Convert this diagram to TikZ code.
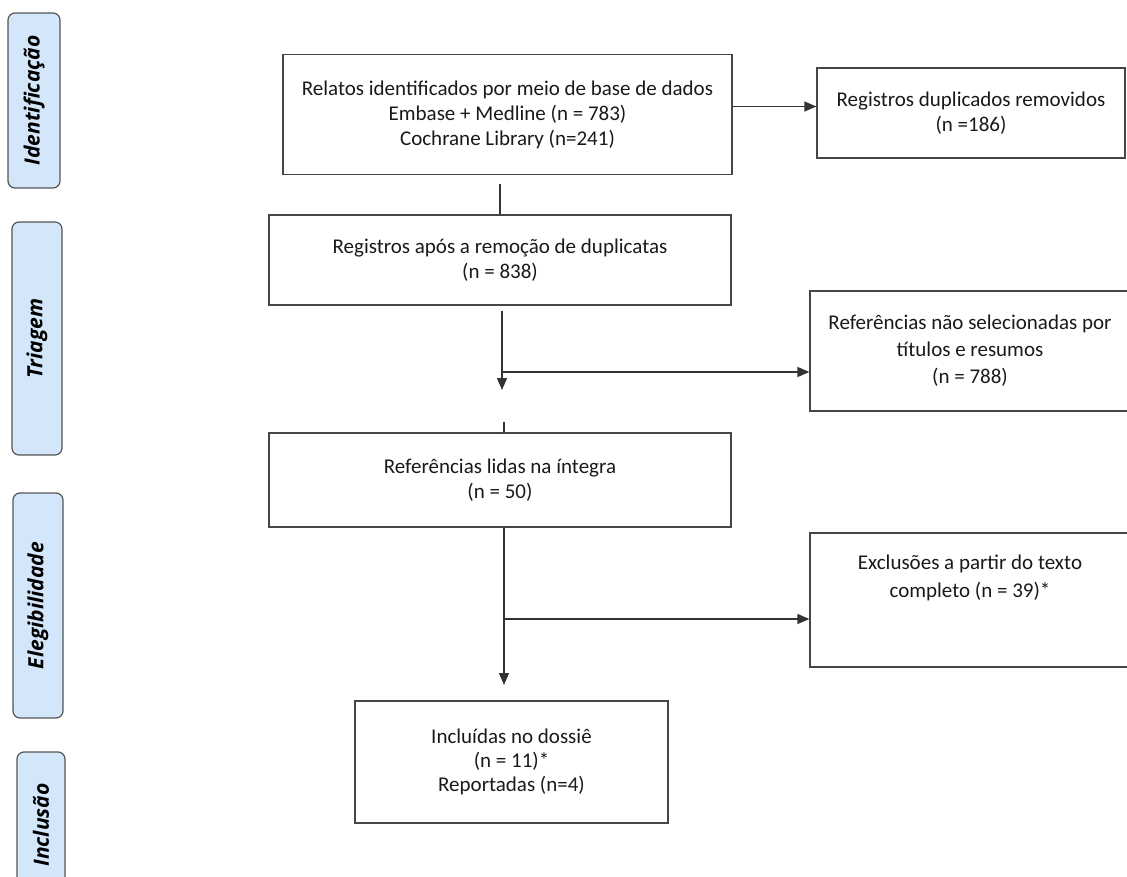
\documentclass[tikz,border=0pt]{standalone}
\usepackage{fontspec}
\setmainfont{Carlito}
\newfontfamily\phasefont{Open Sans}
\usepackage{tikz}
\usetikzlibrary{arrows.meta}
\definecolor{phasefill}{RGB}{212,231,250}
\definecolor{phaseline}{RGB}{85,85,85}
\definecolor{boxline}{RGB}{70,70,70}
\tikzset{
    flowbox/.style={draw=boxline,line width=1.2pt,inner sep=0pt,align=center,font=\fontsize{21}{25}\selectfont,text=black!90},
    phase/.style={draw=phaseline,fill=phasefill,line width=1.2pt,rounded corners=7pt,rotate=90,inner sep=0pt,font=\phasefont\bfseries\itshape\fontsize{21}{24}\selectfont},
    conn/.style={draw=black!80,line width=1.2pt},
    arr/.style={conn,-{Triangle[length=12pt,width=10pt]}}
}
\begin{document}
\begin{tikzpicture}[x=1pt,y=-1pt]
            \useasboundingbox (0,0) rectangle (1127,877);
            \clip (0,0) rectangle (1127,877);

            \node[phase,minimum width=175pt,minimum height=52pt] (ident) at (34,100.5) {Identificação};
            \node[phase,minimum width=233pt,minimum height=50pt] (triag) at (37,338.5) {Triagem};
            \node[phase,minimum width=225pt,minimum height=50pt] (eleg) at (38,605.5) {Elegibilidade};
            \node[phase,minimum width=146pt,minimum height=48pt] (incl) at (41,825) {Inclusão};

            \node[flowbox,minimum width=449pt,minimum height=120pt] (relatos) at (507.5,114.5)
                {Relatos identificados por meio de base de dados\\Embase + Medline (n = 783)\\Cochrane Library (n=241)};
            \node[flowbox,minimum width=308pt,minimum height=90pt] (dupl) at (971,113)
                {Registros duplicados removidos\\(n =186)};
            \node[flowbox,minimum width=462pt,minimum height=90pt] (regist) at (500,260)
                {Registros após a remoção de duplicatas\\(n = 838)};
            \node[flowbox,minimum width=320pt,minimum height=120pt,font=\fontsize{21}{27}\selectfont] (naosel) at (970,351)
                {Referências não selecionadas por\\títulos e resumos\\(n = 788)};
            \node[flowbox,minimum width=462pt,minimum height=94pt] (lidas) at (500,480)
                {Referências lidas na íntegra\\(n = 50)};
            \node[flowbox,minimum width=320pt,minimum height=134pt] (exclu) at (970,600) {};
            \node[flowbox,draw=none,anchor=north,font=\fontsize{21}{28}\selectfont] (exclutxt) at ([yshift=-22pt]exclu.north)
                {Exclusões a partir do texto\\completo (n = 39)*};
            \node[flowbox,minimum width=313pt,minimum height=122pt,font=\fontsize{21}{24}\selectfont] (inclu) at (511.5,762)
                {Incluídas no dossiê\\(n = 11)*\\Reportadas (n=4)};

            \coordinate (tri) at (502,372);
            \coordinate (eli) at (504,619);
            \coordinate (tip1) at (502,390);
            \coordinate (tip2) at (504,685);

            \draw[arr] ([yshift=8pt]relatos.east) -- ([yshift=8pt]relatos.east -| dupl.west);
            \draw[conn] ([yshift=-9pt]relatos.south -| regist.north) -- (regist.north);
            \draw[arr] ([yshift=-5pt]regist.south -| tri) -- (tip1);
            \draw[arr] (tri) -- (tri -| naosel.west);
            \draw[conn] ([xshift=4pt]lidas.north) -- ++(0,-10);
            \draw[arr] (lidas.south -| eli) -- (tip2);
            \draw[arr] (eli) -- (eli -| exclu.west);
\end{tikzpicture}
\end{document}
